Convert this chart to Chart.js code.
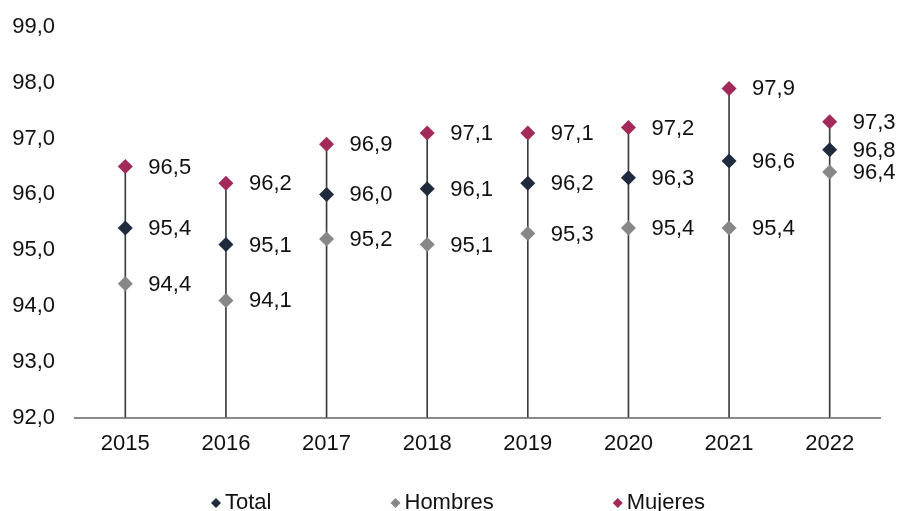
<!DOCTYPE html>
<html>
<head>
<meta charset="utf-8">
<script src="https://cdn.jsdelivr.net/npm/chart.js@4.4.1/dist/chart.umd.min.js"></script>
<style>
  html, body { margin: 0; padding: 0; background: #fff; }
  #wrap { width: 903px; height: 511px; }
</style>
</head>
<body>
<div id="wrap"><canvas id="chart" width="903" height="511"></canvas></div>
<script>
// ? Data
// ? ==================================
const years = ["2015", "2016", "2017", "2018", "2019", "2020", "2021", "2022"];
const total = [95.4, 95.1, 96.0, 96.1, 96.2, 96.3, 96.6, 96.8];
const hombres = [94.4, 94.1, 95.2, 95.1, 95.3, 95.4, 95.4, 96.4];
const mujeres = [96.5, 96.2, 96.9, 97.1, 97.1, 97.2, 97.9, 97.3];
const yTicks = [92, 93, 94, 95, 96, 97, 98, 99];

const FONT = "'Liberation Sans', Arial, sans-serif";
const fmt = (v) => v.toFixed(1).replace(".", ",");

// stem from axis up to the highest value of each year
const stems = years.map((y, i) => [yTicks[0], Math.max(total[i], hombres[i], mujeres[i])]);

// & value labels to the right of every diamond
const valueLabels = {
  id: "valueLabels",
  afterDatasetsDraw(chart) {
    const ctx = chart.ctx;
    ctx.save();
    ctx.font = "22px " + FONT;
    ctx.fillStyle = "#111";
    ctx.textAlign = "left";
    ctx.textBaseline = "middle";
    chart.data.datasets.forEach((ds, di) => {
      if (ds.type !== "line") return;
      chart.getDatasetMeta(di).data.forEach((pt, i) => {
        ctx.fillText(fmt(ds.data[i]), pt.x + 23, pt.y + 1);
      });
    });
    ctx.restore();
  },
};

// & legend at the bottom (wide gaps between items)
const bottomLegend = {
  id: "bottomLegend",
  afterDraw(chart) {
    const ctx = chart.ctx;
    const items = chart.data.datasets.filter((ds) => ds.type === "line");
    const gap = 119;
    const dia = 5;
    ctx.save();
    ctx.font = "22px " + FONT;
    ctx.textBaseline = "middle";
    const widths = items.map((ds) => dia * 2 + 4 + ctx.measureText(ds.label).width);
    const full = widths.reduce((a, b) => a + b, 0) + gap * (items.length - 1);
    let x = 458 - full / 2;
    const y = 503;
    items.forEach((ds, i) => {
      ctx.fillStyle = ds.backgroundColor;
      ctx.beginPath();
      ctx.moveTo(x, y);
      ctx.lineTo(x + dia, y - dia);
      ctx.lineTo(x + dia * 2, y);
      ctx.lineTo(x + dia, y + dia);
      ctx.closePath();
      ctx.fill();
      ctx.fillStyle = "#111";
      ctx.fillText(ds.label, x + dia * 2 + 4, y);
      x += widths[i] + gap;
    });
    ctx.restore();
  },
};

function pointSet(label, data, color) {
  return {
    type: "line",
    label: label,
    data: data,
    showLine: false,
    pointStyle: "rectRot",
    pointRadius: 7.5,
    pointBorderWidth: 0,
    backgroundColor: color,
    borderColor: color,
    order: 1,
  };
}

new Chart(document.getElementById("chart"), {
  type: "bar",
  data: {
    labels: years,
    datasets: [
      {
        type: "bar",
        label: "stem",
        data: stems,
        backgroundColor: "#3c3c3c",
        barThickness: 1,
        order: 10,
      },
      pointSet("Total", total, "#1f2b3c"),
      pointSet("Hombres", hombres, "#878787"),
      pointSet("Mujeres", mujeres, "#a12a5a"),
    ],
  },
  options: {
    responsive: false,
    animation: false,
    layout: { padding: { left: 4, right: 23, top: 27, bottom: 41 } },
    plugins: {
      legend: { display: false },
      tooltip: { enabled: false },
    },
    scales: {
      x: {
        grid: { display: false, drawTicks: false },
        border: { display: true, color: "#8a8a8a", width: 2 },
        ticks: { color: "#111", font: { family: FONT, size: 22 }, padding: 13 },
      },
      y: {
        min: yTicks[0],
        max: yTicks[yTicks.length - 1],
        afterBuildTicks: (scale) => {
          scale.ticks = yTicks.map((v) => ({ value: v }));
        },
        afterFit: (scale) => {
          scale.width = 71;
          scale.paddingTop = 0;
          scale.paddingBottom = 0;
        },
        grid: { display: false, drawTicks: false },
        border: { display: false },
        ticks: {
          color: "#111",
          font: { family: FONT, size: 22 },
          padding: 20,
          callback: (v) => fmt(v),
        },
      },
    },
  },
  plugins: [valueLabels, bottomLegend],
});
</script>
</body>
</html>
